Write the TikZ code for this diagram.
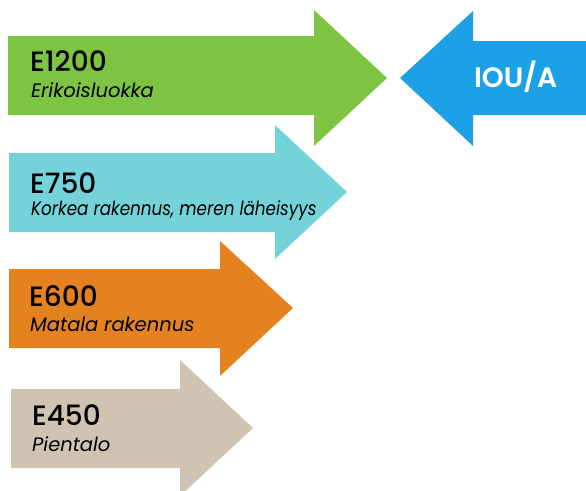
\documentclass[tikz,border=0pt]{standalone}
\usepackage{fontspec}
\setmainfont{Poppins}[BoldFont={Poppins Medium}]
\newfontfamily\semib{Poppins SemiBold}
\definecolor{cgreen}{RGB}{125,196,67}
\definecolor{ccyan}{RGB}{116,211,216}
\definecolor{corange}{RGB}{227,130,31}
\definecolor{cbeige}{RGB}{208,195,178}
\definecolor{cblue}{RGB}{29,161,230}
\tikzset{
  title/.style={anchor=base west, inner sep=0pt, font=\fontsize{28}{32}\selectfont\bfseries, text=black},
  sub/.style={anchor=base west, inner sep=0pt, font=\fontsize{19.5}{22}\selectfont\itshape, text=black},
}
\begin{document}
\begin{tikzpicture}[x=1pt,y=-1pt]
\useasboundingbox (0,0) rectangle (586,490);
\begin{scope}
\clip (0,0) rectangle (586,490);
% green
\fill[cgreen] (8,36) -- (314,36) -- (314,10) -- (387,78) -- (314,146) -- (314,115) -- (8,115) -- cycle;
% blue
\fill[cblue] (586,41) -- (473,41) -- (473,11) -- (400,78) -- (473,146) -- (473,115) -- (586,115) -- cycle;
% cyan
\fill[ccyan] (9,153) -- (275,153) -- (275,125) -- (347,192) -- (275,259) -- (275,232) -- (9,232) -- cycle;
% orange
\fill[corange] (9,269) -- (220,269) -- (220,241) -- (293,308) -- (220,376) -- (220,348) -- (9,348) -- cycle;
% beige
\fill[cbeige] (11,389) -- (180,389) -- (180,360) -- (253,428) -- (180,496) -- (180,468) -- (11,468) -- cycle;
\end{scope}
\node[title] (t1) at (30,71) {E1200};
\node[sub] (s1) at (31,97) {Erikoisluokka};
\node[title] (t2) at (30,193) {E750};
\node[sub, xscale=0.86, transform shape] (s2) at (31,215) {Korkea rakennus, meren läheisyys};
\node[title] (t3) at (29,306) {E600};
\node[sub] (s3) at (30,331) {Matala rakennus};
\node[title] (t4) at (32,425) {E450};
\node[sub] (s4) at (32,451) {Pientalo};
\node[title, text=white, font=\fontsize{28}{32}\selectfont\semib] (iou) at (474,87) {IOU/A};
\end{tikzpicture}
\end{document}
